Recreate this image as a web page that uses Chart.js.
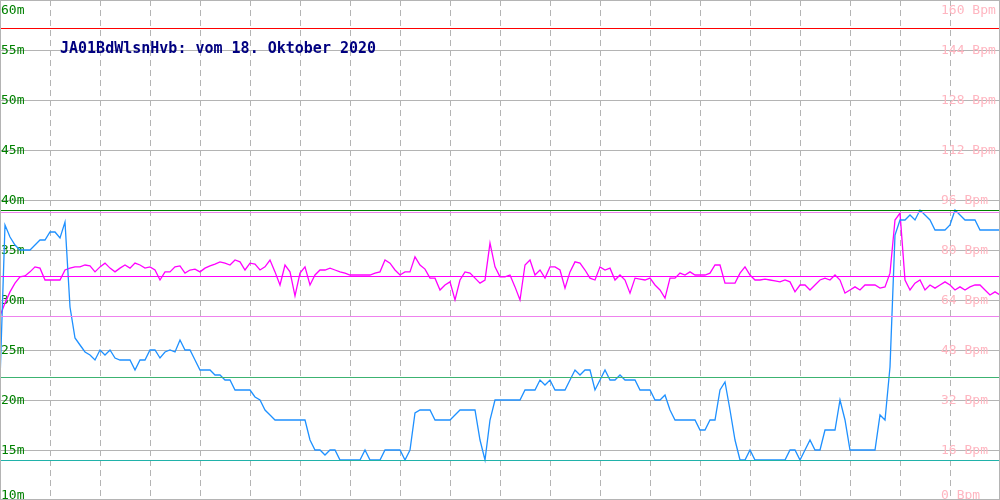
<!DOCTYPE html>
<html>
<head>
<meta charset="utf-8">
<script src="https://cdn.jsdelivr.net/npm/chart.js@4/dist/chart.umd.min.js"></script>
<style>
  html, body { margin: 0; padding: 0; background: #fff; overflow: hidden; }
  canvas { display: block; }
</style>
</head>
<body>
<canvas id="chart" width="1000" height="500"></canvas>
<script>
// sample spacing on the x axis (one value every 5 units, 0..1000)
const sampleStep = 5;

// depth in metres (left axis)
const depthValues = [
  22, 37.5, 36.3, 35.5, 35, 35, 35, 35.5, 36, 36,
  36.8, 36.8, 36.2, 37.8, 29.3, 26.2, 25.5, 24.8, 24.5, 24,
  25, 24.5, 25, 24.2, 24, 24, 24, 23, 24, 24,
  25, 25, 24.2, 24.8, 25, 24.8, 26, 25, 25, 24,
  23, 23, 23, 22.5, 22.5, 22, 22, 21, 21, 21,
  21, 20.3, 20, 19, 18.5, 18, 18, 18, 18, 18,
  18, 18, 16, 15, 15, 14.5, 15, 15, 14, 14,
  14, 14, 14, 15, 14, 14, 14, 15, 15, 15,
  15, 14, 15, 18.7, 19, 19, 19, 18, 18, 18,
  18, 18.5, 19, 19, 19, 19, 16, 14, 18, 20,
  20, 20, 20, 20, 20, 21, 21, 21, 22, 21.5,
  22, 21, 21, 21, 22, 23, 22.5, 23, 23, 21,
  22, 23, 22, 22, 22.5, 22, 22, 22, 21, 21,
  21, 20, 20, 20.5, 19, 18, 18, 18, 18, 18,
  17, 17, 18, 18, 21, 21.8, 19, 16, 14, 14,
  15, 14, 14, 14, 14, 14, 14, 14, 15, 15,
  14, 15, 16, 15, 15, 17, 17, 17, 20, 18,
  15, 15, 15, 15, 15, 15, 18.5, 18, 23.3, 36.5,
  38, 38, 38.5, 38, 39, 38.5, 38, 37, 37, 37,
  37.5, 39, 38.5, 38, 38, 38, 37, 37, 37, 37,
  37
];

// heart rate in Bpm (right axis)
const pulseValues = [
  58.9, 63.0, 66.6, 69.4, 71.4, 71.7, 73.0, 74.6, 74.2, 70.4,
  70.4, 70.4, 70.4, 73.6, 74.2, 74.6, 74.6, 75.2, 74.9, 73.0,
  74.6, 75.8, 74.2, 73.0, 74.2, 75.2, 74.2, 75.8, 75.2, 74.2,
  74.6, 73.6, 70.4, 73.0, 73.0, 74.6, 74.9, 72.6, 73.6, 73.9,
  73.0, 74.2, 74.9, 75.5, 76.2, 75.8, 75.2, 76.8, 76.2, 73.6,
  75.8, 75.5, 73.6, 74.6, 76.8, 73.0, 68.8, 75.2, 73.0, 65.3,
  72.6, 74.6, 68.8, 72.0, 73.6, 73.6, 74.2, 73.6, 73.0, 72.6,
  72.0, 72.0, 72.0, 72.0, 72.0, 72.6, 73.0, 76.8, 75.8, 73.6,
  72.0, 73.0, 73.0, 77.8, 75.2, 73.9, 71.0, 71.0, 67.2, 68.8,
  69.8, 64.0, 70.4, 73.0, 72.6, 71.0, 69.4, 70.4, 82.2, 74.6,
  71.4, 71.4, 72.0, 68.2, 64.0, 75.2, 76.8, 72.0, 73.6, 71.0,
  74.6, 74.6, 73.6, 67.8, 73.0, 76.2, 75.8, 73.6, 71.0, 70.4,
  74.6, 73.6, 74.2, 70.4, 72.0, 70.4, 66.2, 71.0, 70.7, 70.4,
  71.0, 68.8, 67.2, 64.6, 71.0, 71.0, 72.6, 72.0, 73.0, 72.0,
  72.0, 72.0, 72.6, 75.2, 75.2, 69.4, 69.4, 69.4, 72.6, 74.6,
  72.0, 70.4, 70.4, 70.7, 70.4, 70.1, 69.8, 70.4, 69.8, 66.6,
  68.8, 68.8, 67.2, 68.8, 70.4, 71.0, 70.4, 72.0, 70.4, 66.2,
  67.2, 68.2, 67.2, 68.8, 68.8, 68.8, 67.8, 68.2, 72.6, 89.6,
  91.8, 70.4, 67.2, 69.4, 70.4, 67.2, 68.8, 67.8, 68.8, 69.8,
  68.8, 67.2, 68.2, 67.2, 68.2, 68.8, 68.8, 67.2, 65.6, 66.6,
  65.6
];

// horizontal marker lines: depth max / avg / min, pulse limit / max / avg / min
const depthMarks = [39, 22.3, 14];
const pulseMarks = [151, 92.2, 71.7, 59];

const depthTicks = [10, 15, 20, 25, 30, 35, 40, 45, 50, 55, 60];
const depthTickLabels = ["10m", "15m", "20m", "25m", "30m", "35m", "40m", "45m", "50m", "55m", "60m"];
const pulseTicks = [0, 16, 32, 48, 64, 80, 96, 112, 128, 144, 160];
const pulseTickLabels = ["0 Bpm", "16 Bpm", "32 Bpm", "48 Bpm", "64 Bpm", "80 Bpm", "96 Bpm", "112 Bpm", "128 Bpm", "144 Bpm", "160 Bpm"];

const chartTitle = "JA01BdWlsnHvb: vom 18. Oktober 2020";

const gridColor = "#b4b4b4";
const depthMarkColors = ["#008000", "#3cb371", "#20b2aa"];
const pulseMarkColors = ["#ff0000", "#ee82ee", "#ff00ff", "#ee82ee"];

const overlay = {
  id: "overlay",
  beforeDatasetsDraw(chart) {
    const ctx = chart.ctx;
    const yL = chart.scales.y;
    const yR = chart.scales.y1;
    const area = chart.chartArea;
    ctx.save();
    // horizontal grid lines on the depth ticks
    ctx.strokeStyle = gridColor;
    ctx.lineWidth = 1;
    depthTicks.forEach((v) => {
      const y = Math.round(yL.getPixelForValue(v)) + 0.5;
      ctx.beginPath();
      ctx.moveTo(area.left, y);
      ctx.lineTo(area.right, y);
      ctx.stroke();
    });
    ctx.font = "13px 'DejaVu Sans Mono'";
    ctx.textBaseline = "alphabetic";
    ctx.textAlign = "left";
    const place = (px) => Math.min(499, Math.max(14, Math.round(px) + 4));
    ctx.fillStyle = "#008000";
    depthTicks.forEach((v, i) => {
      ctx.fillText(depthTickLabels[i], 1, place(yL.getPixelForValue(v)));
    });
    ctx.fillStyle = "#ffb6c1";
    pulseTicks.forEach((v, i) => {
      ctx.fillText(pulseTickLabels[i], 941, place(yR.getPixelForValue(v)));
    });
    ctx.font = "bold 15px 'DejaVu Sans Mono'";
    ctx.fillStyle = "#000080";
    ctx.fillText(chartTitle, 60, 53);
    ctx.restore();
  },
  afterDatasetsDraw(chart) {
    const ctx = chart.ctx;
    const area = chart.chartArea;
    const hline = (scale, v, color) => {
      const y = Math.round(scale.getPixelForValue(v)) + 0.5;
      ctx.strokeStyle = color;
      ctx.lineWidth = 1;
      ctx.beginPath();
      ctx.moveTo(area.left, y);
      ctx.lineTo(area.right, y);
      ctx.stroke();
    };
    ctx.save();
    depthMarks.forEach((v, i) => hline(chart.scales.y, v, depthMarkColors[i]));
    pulseMarks.forEach((v, i) => hline(chart.scales.y1, v, pulseMarkColors[i]));
    // frame
    ctx.strokeStyle = gridColor;
    ctx.lineWidth = 1;
    ctx.strokeRect(0.5, 0.5, chart.width - 1, chart.height - 1);
    ctx.restore();
  }
};

const ctx = document.getElementById("chart").getContext("2d");
new Chart(ctx, {
  type: "line",
  data: {
    datasets: [
      {
        label: "Tiefe",
        data: depthValues.map((v, i) => ({ x: i * sampleStep, y: v })),
        yAxisID: "y",
        borderColor: "#1e90ff",
        borderWidth: 1.3,
        pointRadius: 0,
        tension: 0,
        fill: false,
      },
      {
        label: "Puls",
        data: pulseValues.map((v, i) => ({ x: i * sampleStep, y: v })),
        yAxisID: "y1",
        borderColor: "#ff00ff",
        borderWidth: 1.3,
        pointRadius: 0,
        tension: 0,
        fill: false,
      },
    ],
  },
  options: {
    responsive: false,
    animation: false,
    layout: { padding: 0, autoPadding: false },
    plugins: { legend: { display: false }, tooltip: { enabled: false } },
    scales: {
      x: {
        type: "linear",
        min: 0,
        max: 1000,
        ticks: { display: false, stepSize: 50 },
        grid: { color: gridColor, lineWidth: 1, drawTicks: false },
        border: { display: false, dash: [6, 4] },
      },
      y: {
        display: false,
        position: "left",
        min: 10,
        max: 60,
      },
      y1: {
        display: false,
        position: "right",
        min: 0,
        max: 160,
      },
    },
  },
  plugins: [overlay],
});
</script>
</body>
</html>
